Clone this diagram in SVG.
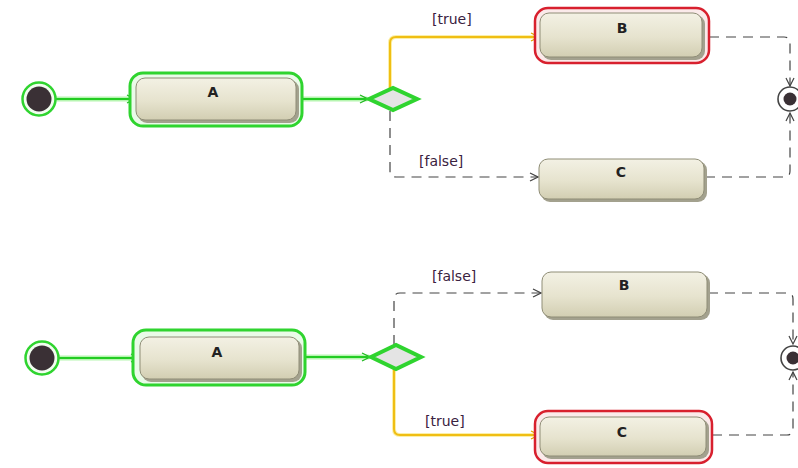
<svg xmlns="http://www.w3.org/2000/svg" width="798" height="468" viewBox="0 0 798 468">
<defs>
<linearGradient id="ng" x1="0" y1="0" x2="0" y2="1">
<stop offset="0" stop-color="#f3f1e4"/>
<stop offset="0.55" stop-color="#e6e3ce"/>
<stop offset="1" stop-color="#d2ceb2"/>
</linearGradient>
<marker id="ag" viewBox="0 0 10 10" refX="9" refY="5" markerWidth="10" markerHeight="10" markerUnits="userSpaceOnUse" orient="auto">
<path d="M1,1 L9,5 L1,9" fill="none" stroke="#1fb81f" stroke-width="1.3"/>
</marker>
<marker id="ay" viewBox="0 0 10 10" refX="9" refY="5" markerWidth="10" markerHeight="10" markerUnits="userSpaceOnUse" orient="auto">
<path d="M1,1 L9,5 L1,9" fill="none" stroke="#e0a800" stroke-width="1.3"/>
</marker>
<marker id="ad" viewBox="0 0 10 10" refX="9" refY="5" markerWidth="10" markerHeight="10" markerUnits="userSpaceOnUse" orient="auto">
<path d="M1,1 L9,5 L1,9" fill="none" stroke="#444" stroke-width="1.2"/>
</marker>
</defs>
<style>
.shadow{fill:#a3a18e;}
.node{fill:url(#ng);stroke:#8f8d76;stroke-width:1;}
.hlg{fill:#eafbe8;stroke:#2fd42f;stroke-width:3;}
.hlr{fill:#fbeaea;stroke:#d8202e;stroke-width:2.5;}
.lbl{font-family:"DejaVu Sans",sans-serif;font-size:14px;font-weight:bold;fill:#222;text-anchor:middle;}
.guard{font-family:"DejaVu Sans",sans-serif;font-size:14px;fill:#3a2240;}
.glow{fill:none;stroke:#b6f5b0;stroke-width:5;stroke-linecap:round;}
.g{fill:none;stroke:#22cc22;stroke-width:2;}
.yglow{fill:none;stroke:#fbf0a8;stroke-width:4;}
.y{fill:none;stroke:#f0be14;stroke-width:2;}
.d{fill:none;stroke:#444;stroke-width:1.2;stroke-dasharray:10,7;}
.dia{fill:#e4e4e4;stroke:#2fd42f;stroke-width:4;}
.fin{fill:#fff;stroke:#444;stroke-width:1.6;}
.dot{fill:#3a3035;}
</style>

<g id="connectors">
<!-- top -->
<path class="glow" d="M55,99 H134"/>
<path class="g" d="M55,99 H135" marker-end="url(#ag)"/>
<path class="glow" d="M302,99 H366"/>
<path class="g" d="M302,99 H368" marker-end="url(#ag)"/>
<path class="yglow" d="M390,88 V43 Q390,37 396,37 H537"/>
<path class="y" d="M390,88 V43 Q390,37 396,37 H539" marker-end="url(#ay)"/>
<path class="d" d="M709,37 H784 Q790,37 790,43 V86" marker-end="url(#ad)"/>
<path class="d" d="M390,111 V171 Q390,177 396,177 H538" marker-end="url(#ad)"/>
<path class="d" d="M705,177 H784 Q790,177 790,171 V113" marker-end="url(#ad)"/>
<text class="guard" x="432" y="24">[true]</text>
<text class="guard" x="419" y="166">[false]</text>
<!-- bottom -->
<path class="glow" d="M59,358 H138"/>
<path class="g" d="M59,358 H139" marker-end="url(#ag)"/>
<path class="glow" d="M305,357 H368"/>
<path class="g" d="M305,357 H370" marker-end="url(#ag)"/>
<path class="d" d="M394,345 V299 Q394,293 400,293 H541" marker-end="url(#ad)"/>
<path class="yglow" d="M394,369 V429 Q394,435 400,435 H537"/>
<path class="y" d="M394,369 V429 Q394,435 400,435 H539" marker-end="url(#ay)"/>
<path class="d" d="M708,293 H787 Q793,293 793,299 V344" marker-end="url(#ad)"/>
<path class="d" d="M712,435 H787 Q793,435 793,429 V372" marker-end="url(#ad)"/>
<text class="guard" x="432" y="281">[false]</text>
<text class="guard" x="425" y="426">[true]</text>
</g>

<!-- top diagram -->
<g id="initial1">
<circle cx="39" cy="99" r="16.5" fill="#f2fdf0" stroke="#2fd42f" stroke-width="2.5"/>
<circle class="dot" cx="39" cy="99" r="12.5"/>
</g>
<g id="A1">
<rect class="hlg" x="130" y="73" width="172" height="53" rx="13"/>
<rect class="shadow" x="138" y="80" width="161" height="43" rx="9"/>
<rect class="node" x="136" y="78" width="160" height="42" rx="9"/>
<text class="lbl" x="213" y="97">A</text>
</g>
<g id="decision1">
<polygon class="dia" points="369,99 393,88 417,99 393,110"/>
</g>
<g id="B1">
<rect class="hlr" x="535" y="8" width="174" height="55" rx="13"/>
<rect class="shadow" x="542" y="15" width="163" height="45" rx="9"/>
<rect class="node" x="540" y="13" width="162" height="44" rx="9"/>
<text class="lbl" x="622" y="33">B</text>
</g>
<g id="C1">
<rect class="shadow" x="541" y="161" width="166" height="41" rx="9"/>
<rect class="node" x="539" y="159" width="165" height="40" rx="9"/>
<text class="lbl" x="621" y="177">C</text>
</g>
<g id="final1">
<circle class="fin" cx="790" cy="99" r="12"/>
<circle class="dot" cx="790" cy="99" r="6.5"/>
</g>

<!-- bottom diagram -->
<g id="initial2">
<circle cx="42" cy="358" r="16.5" fill="#f2fdf0" stroke="#2fd42f" stroke-width="2.5"/>
<circle class="dot" cx="42" cy="358" r="12.5"/>
</g>
<g id="A2">
<rect class="hlg" x="133" y="330" width="172" height="55" rx="13"/>
<rect class="shadow" x="142" y="339" width="160" height="43" rx="9"/>
<rect class="node" x="140" y="337" width="159" height="42" rx="9"/>
<text class="lbl" x="217" y="357">A</text>
</g>
<g id="decision2">
<polygon class="dia" points="371,357 396,345 421,357 396,369"/>
</g>
<g id="B2">
<rect class="shadow" x="544" y="274" width="166" height="46" rx="9"/>
<rect class="node" x="542" y="272" width="165" height="45" rx="9"/>
<text class="lbl" x="624" y="290">B</text>
</g>
<g id="C2">
<rect class="hlr" x="535" y="411" width="177" height="52" rx="13"/>
<rect class="shadow" x="542" y="419" width="167" height="40" rx="9"/>
<rect class="node" x="540" y="417" width="166" height="39" rx="9"/>
<text class="lbl" x="622" y="437">C</text>
</g>
<g id="final2">
<circle class="fin" cx="793" cy="358" r="12"/>
<circle class="dot" cx="793" cy="358" r="6.5"/>
</g>
</svg>
